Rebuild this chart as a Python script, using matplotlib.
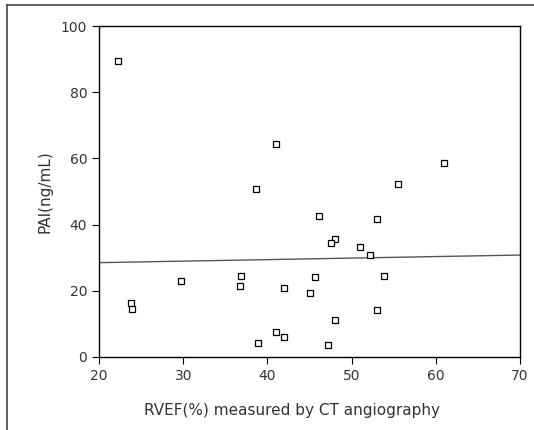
import numpy as np
import matplotlib
matplotlib.use("Agg")
import matplotlib.pyplot as plt
from matplotlib.lines import Line2D

# RVEF (%) vs PAI (ng/mL)
rvef = [22.2, 41.0, 38.7, 46.1, 53.0, 61.0, 55.5, 48.0, 47.55, 51.0, 52.2,
        23.8, 23.96, 29.7, 36.7, 36.9, 38.9, 41.0, 42.0, 42.0, 45.65, 45.0,
        53.8, 53.0, 48.0, 47.2]
pai = [89.5, 64.5, 50.8, 42.6, 41.7, 58.7, 52.4, 35.7, 34.4, 33.1, 30.9,
       16.2, 14.5, 22.9, 21.4, 24.5, 4.2, 7.6, 5.9, 20.8, 24.2, 19.2,
       24.6, 14.1, 11.1, 3.7]

# fitted line endpoints
fit_x = [20, 70]
fit_y = [28.5, 30.8]

xticks = [20, 30, 40, 50, 60, 70]
yticks = [0, 20, 40, 60, 80, 100]

fig = plt.figure(figsize=(5.34, 4.30), dpi=100)
ax = fig.add_axes([99 / 534, 73 / 430, 421 / 534, 331 / 430])

ax.plot(fit_x, fit_y, color="#555555", lw=1.0)
ax.plot(rvef, pai, ls="none", marker="s", markersize=4,
        markerfacecolor="white", markeredgecolor="black", markeredgewidth=0.9)

ax.set_xlim(20, 70)
ax.set_ylim(0, 100)
ax.set_xticks(xticks)
ax.set_yticks(yticks)
ax.tick_params(direction="out", length=5, width=0.8, labelsize=10,
               labelcolor="#333333", top=False, right=False)
for s in ax.spines.values():
    s.set_linewidth(1.0)

ax.set_ylabel("PAI(ng/mL)", fontsize=11, color="#333333")
ax.yaxis.set_label_coords(-(99 - 52) / 421, 0.5)
ax.set_xlabel("RVEF(%) measured by CT angiography", fontsize=11, color="#333333")
ax.xaxis.set_label_coords(0.458, -(403 - 357) / 331)

# outer frame (left and top edges)
fig.add_artist(Line2D([7 / 534, 7 / 534], [0, 1 - 5 / 430], color="#444444", lw=1.2))
fig.add_artist(Line2D([7 / 534, 1], [1 - 5 / 430, 1 - 5 / 430], color="#444444", lw=1.2))

fig.savefig("out.png", dpi=100)
